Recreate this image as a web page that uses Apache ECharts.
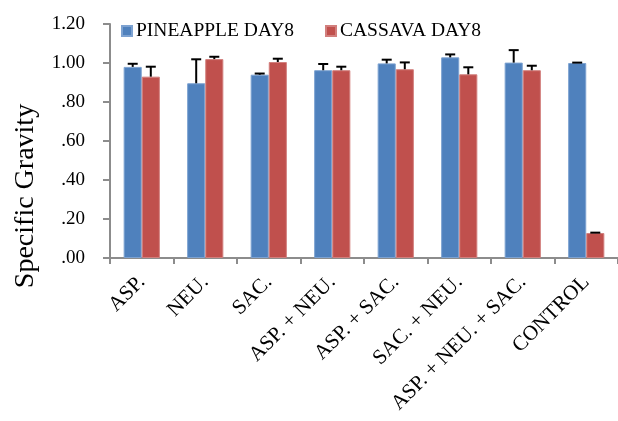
<!DOCTYPE html>
<html>
<head>
<meta charset="utf-8">
<script src="https://cdn.jsdelivr.net/npm/echarts@6/dist/echarts.min.js"></script>
<style>html,body{margin:0;padding:0;background:#fff}#c{width:618px;height:421px}</style>
</head>
<body>
<div id="c"></div>
<script>
var categories = ['ASP.', 'NEU.', 'SAC.', 'ASP. + NEU.', 'ASP. + SAC.', 'SAC. + NEU.', 'ASP. + NEU. + SAC.', 'CONTROL'];
var pineapple = [0.980, 0.896, 0.940, 0.963, 0.998, 1.029, 1.002, 1.000];
var pineappleErr = [0.016, 0.123, 0.006, 0.032, 0.019, 0.015, 0.064, 0.002];
var cassava = [0.930, 1.020, 1.005, 0.963, 0.968, 0.942, 0.963, 0.128];
var cassavaErr = [0.051, 0.012, 0.017, 0.018, 0.035, 0.036, 0.023, 0.002];
var seriesNames = ['PINEAPPLE DAY8', 'CASSAVA DAY8'];
var yTicks = {min: 0, max: 1.2, interval: 0.2};

var FONT = '"Liberation Serif", "Times New Roman", serif';
var BAR_FRAC = 0.285;
var colors = ['#4F81BD', '#C0504D'];
var borders = ['#7DA2D1', '#D27F7D'];

function errData(vals, errs) {
  return vals.map(function (v, i) { return [i, v, errs[i]]; });
}
function errRender(side) {
  return function (params, api) {
    var idx = api.value(0), v = api.value(1), e = api.value(2);
    var band = api.size([1, 0])[0];
    var off = side * band * BAR_FRAC / 2;
    var p0 = api.coord([idx, v]);
    var p1 = api.coord([idx, v + e]);
    var x = p0[0] + off;
    var cap = 5;
    var st = {stroke: '#000', lineWidth: 2};
    return {
      type: 'group',
      children: [
        {type: 'line', shape: {x1: x, y1: p0[1], x2: x, y2: p1[1]}, style: st},
        {type: 'line', shape: {x1: x - cap, y1: p1[1], x2: x + cap, y2: p1[1]}, style: st}
      ]
    };
  };
}

var chart = echarts.init(document.getElementById('c'), null, {renderer: 'canvas'});
chart.setOption({
  animation: false,
  backgroundColor: '#fff',
  legend: {
    data: seriesNames,
    top: 16,
    left: 116,
    icon: 'rect',
    itemWidth: 10,
    itemHeight: 10,
    itemGap: 31,
    textStyle: {fontFamily: FONT, fontSize: 19.5, color: '#000', padding: [0, 0, 0, -1]}
  },
  grid: {left: 110, right: -10, top: 24, bottom: 163},
  xAxis: {
    type: 'category',
    data: categories,
    axisLine: {lineStyle: {color: '#8c8c8c', width: 2}},
    axisTick: {show: true, length: 6, lineStyle: {color: '#8c8c8c', width: 2}},
    axisLabel: {rotate: 45, fontFamily: FONT, fontSize: 21, color: '#000', margin: 21, interval: 0}
  },
  yAxis: {
    type: 'value',
    min: yTicks.min,
    max: yTicks.max,
    interval: yTicks.interval,
    splitLine: {show: false},
    axisLine: {show: true, lineStyle: {color: '#8c8c8c', width: 2}},
    axisTick: {show: true, length: 7, lineStyle: {color: '#8c8c8c', width: 2}},
    axisLabel: {
      fontFamily: FONT, fontSize: 19, color: '#000', margin: 25,
      formatter: function (v) { var s = v.toFixed(2); return s.charAt(0) === '0' ? s.slice(1) : s; }
    }
  },
  graphic: [{
    type: 'text',
    x: 26, y: 196,
    rotation: Math.PI / 2,
    style: {text: 'Specific Gravity', font: '28px ' + FONT, fill: '#000', textAlign: 'center', textVerticalAlign: 'middle'}
  }],
  series: [
    {name: seriesNames[0], type: 'bar', data: pineapple, barWidth: (BAR_FRAC * 100) + '%', barGap: '0%',
     itemStyle: {color: colors[0], borderColor: borders[0], borderWidth: 1}},
    {name: seriesNames[1], type: 'bar', data: cassava, barWidth: (BAR_FRAC * 100) + '%', barGap: '0%',
     itemStyle: {color: colors[1], borderColor: borders[1], borderWidth: 1}},
    {type: 'custom', renderItem: errRender(-1), data: errData(pineapple, pineappleErr), encode: {x: 0, y: 1}, z: 5, silent: true},
    {type: 'custom', renderItem: errRender(1), data: errData(cassava, cassavaErr), encode: {x: 0, y: 1}, z: 5, silent: true}
  ]
});
</script>
</body>
</html>
